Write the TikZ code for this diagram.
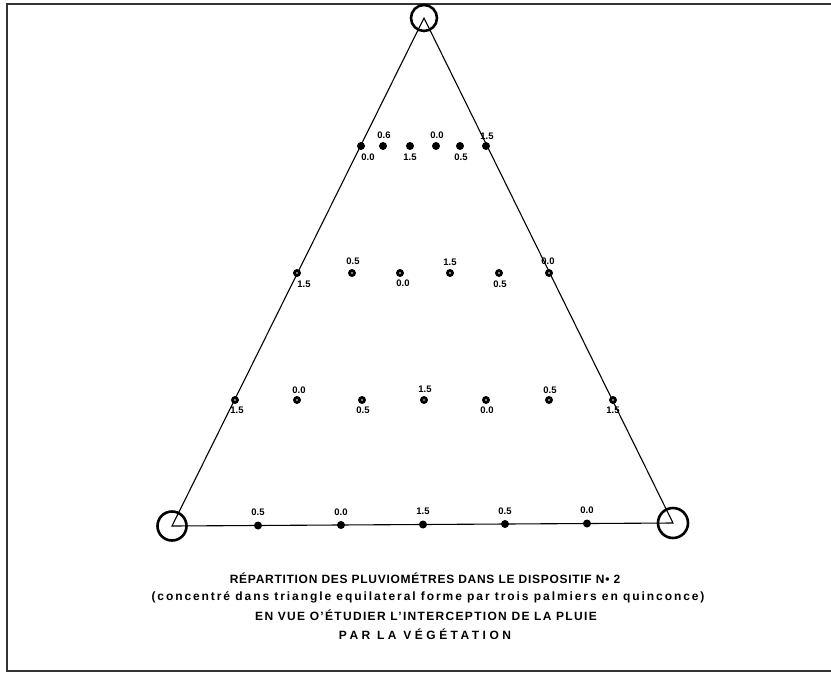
\documentclass[tikz,border=0pt]{standalone}
\usepackage{fontspec}
\setmainfont{Liberation Sans}
\begin{document}
\begin{tikzpicture}[x=1pt,y=-1pt,
  pluvio/.style={circle,fill=black,inner sep=0pt,minimum size=8pt},
  pluvioring/.style={pluvio,path picture={\fill[white] (path picture bounding box.center) circle (0.9pt);}},
  mesure/.style={font=\fontsize{9.5}{9.5}\selectfont\bfseries,inner sep=0pt},
  palmier/.style={circle,draw,line width=2.6pt,inner sep=0pt,minimum size=#1},
  palmier/.default=28pt,
  titre/.style={font=\fontsize{12}{12}\selectfont\bfseries\addfontfeature{LetterSpace=#1},inner sep=0pt},
  soustitre/.style={font=\fontsize{12}{12}\selectfont\bfseries\addfontfeature{LetterSpace=16},inner sep=0pt}]

\useasboundingbox (0,0) rectangle (831,673);

% Cadre
\draw[line width=2pt,black!80] (831,4) -- (7,4) -- (7,671) -- (831,671);

% Palmiers
\coordinate (A) at (424,18);
\coordinate (B) at (172,526);
\coordinate (C) at (673,523);
\draw[line width=1.1pt] (A) -- (B) -- (C) -- cycle;
\node[palmier=26pt] (pA) at (A) {};
\node[palmier=29pt] (pB) at (B) {};
\node[palmier=30pt] (pC) at (C) {};

% Rang 1
\foreach \x/\v/\dx/\dy [count=\i] in {361/0.0/7/11, 383/0.6/1/-11, 410/1.5/0/11, 436/0.0/1/-11, 460/0.5/1/11, 486/1.5/1/-10}
{
    \node[pluvio] (r1-\i) at (\x,146) {};
    \node[mesure] (m1-\i) at ([shift={(\dx,\dy)}]r1-\i) {\v};
}

% Rang 2
\foreach \x/\v/\dx/\dy [count=\i] in {297/1.5/7/11, 352/0.5/1/-12, 400/0.0/3/10, 450/1.5/0/-11, 499/0.5/1/11, 549/0.0/-1/-12}
{
    \node[pluvioring] (r2-\i) at (\x,273) {};
    \node[mesure] (m2-\i) at ([shift={(\dx,\dy)}]r2-\i) {\v};
}

% Rang 3
\foreach \x/\v/\dx/\dy [count=\i] in {235/1.5/2/10, 297/0.0/2/-10, 362/0.5/1/10, 424/1.5/1/-11, 486/0.0/1/10, 549/0.5/1/-10, 613/1.5/0/10}
{
    \node[pluvioring] (r3-\i) at (\x,400) {};
    \node[mesure] (m3-\i) at ([shift={(\dx,\dy)}]r3-\i) {\v};
}

% Base
\foreach \x/\y/\v [count=\i] in {258/525.5/0.5, 341/525/0.0, 423/524.5/1.5, 505/524/0.5, 587/523.5/0.0}
{
    \node[pluvio] (r4-\i) at (\x,\y) {};
    \node[mesure] (m4-\i) at ([shift={(0,-13)}]r4-\i) {\v};
}

% Legende
\node[titre=6] (t1) at (425,578) {RÉPARTITION DES PLUVIOMÉTRES DANS LE DISPOSITIF N\textbullet{} 2};
\node[soustitre] (t2) at (428,597) {(concentré dans triangle equilateral forme par trois palmiers en quinconce)};
\node[titre=11] (t3) at (426,615) {EN VUE O'ÉTUDIER L'INTERCEPTION DE LA PLUIE};
\node[titre=29] (t4) at (425,634) {PAR LA VÉGÉTATION};

\end{tikzpicture}
\end{document}
